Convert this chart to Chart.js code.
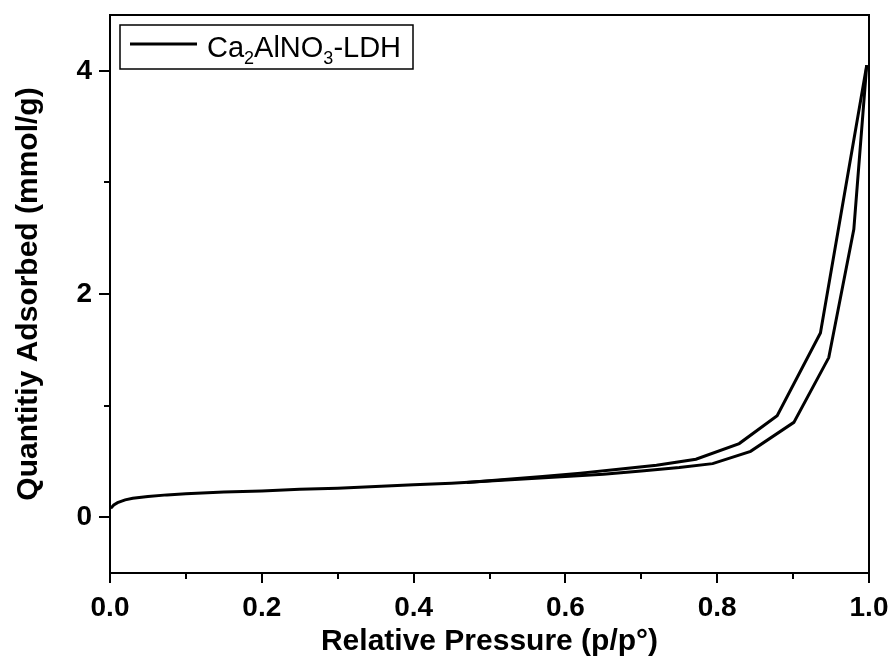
<!DOCTYPE html>
<html>
<head>
<meta charset="utf-8">
<script src="https://cdn.jsdelivr.net/npm/chart.js@4/dist/chart.umd.min.js"></script>
<style>
  html, body { margin: 0; padding: 0; background: #fff; }
  #wrap { width: 893px; height: 667px; }
</style>
</head>
<body>
<div id="wrap"><canvas id="isoChart" width="893" height="667"></canvas></div>
<script>
// adsorption branch (lower)
const adsX = [0.001, 0.005, 0.01, 0.02, 0.03, 0.05, 0.075, 0.1, 0.15, 0.2, 0.25, 0.3, 0.35, 0.4, 0.45, 0.5, 0.55, 0.6, 0.65, 0.7, 0.75, 0.794, 0.844, 0.901, 0.947, 0.980, 0.997];
const adsY = [0.08, 0.11, 0.13, 0.155, 0.17, 0.185, 0.20, 0.21, 0.225, 0.235, 0.25, 0.26, 0.275, 0.29, 0.305, 0.325, 0.345, 0.365, 0.385, 0.415, 0.445, 0.48, 0.59, 0.85, 1.43, 2.58, 4.05];
// desorption branch (upper)
const desX = [0.997, 0.936, 0.879, 0.829, 0.772, 0.72, 0.67, 0.62, 0.57, 0.52, 0.47];
const desY = [4.05, 1.65, 0.91, 0.66, 0.52, 0.465, 0.43, 0.395, 0.365, 0.338, 0.312];

const xTicks = [0, 0.2, 0.4, 0.6, 0.8, 1.0];
const xMinor = [0.1, 0.3, 0.5, 0.7, 0.9];
const yTicks = [0, 2, 4];
const yMinor = [1, 3];

const seriesName = ["Ca", "2", "AlNO", "3", "-LDH"];
const FONT = "'Liberation Sans', Arial, sans-serif";

function toPoints(xs, ys) {
    return xs.map((x, i) => ({ x: x, y: ys[i] }));
}

// frame, ticks and legend drawn on top of chart
const framePlugin = {
    id: "frame",
    afterDraw(chart) {
        const ctx = chart.ctx;
        const a = chart.chartArea;
        const xs = chart.scales.x;
        const ys = chart.scales.y;
        ctx.save();
        ctx.strokeStyle = "#000";
        ctx.lineWidth = 2;
        ctx.strokeRect(a.left, a.top, a.right - a.left, a.bottom - a.top);

        ctx.beginPath();
        xTicks.forEach(v => {
            const p = Math.round(xs.getPixelForValue(v));
            ctx.moveTo(p, a.bottom); ctx.lineTo(p, a.bottom + 10);
        });
        xMinor.forEach(v => {
            const p = Math.round(xs.getPixelForValue(v));
            ctx.moveTo(p, a.bottom); ctx.lineTo(p, a.bottom + 6);
        });
        yTicks.forEach(v => {
            const p = Math.round(ys.getPixelForValue(v));
            ctx.moveTo(a.left, p); ctx.lineTo(a.left - 11, p);
        });
        yMinor.forEach(v => {
            const p = Math.round(ys.getPixelForValue(v));
            ctx.moveTo(a.left, p); ctx.lineTo(a.left - 6, p);
        });
        ctx.stroke();

        // legend
        ctx.lineWidth = 1.5;
        ctx.strokeRect(120, 25, 293, 44);
        ctx.lineWidth = 3;
        ctx.beginPath();
        ctx.moveTo(130, 44); ctx.lineTo(197, 44);
        ctx.stroke();
        ctx.fillStyle = "#000";
        ctx.textBaseline = "alphabetic";
        let x = 207;
        seriesName.forEach((part, i) => {
            const sub = i % 2 === 1;
            ctx.font = (sub ? "18px " : "29px ") + FONT;
            ctx.fillText(part, x, sub ? 64 : 57);
            x += ctx.measureText(part).width;
        });
        ctx.restore();
    }
};

function fitX(s) {
    s.height = 94;
    s.paddingLeft = 0;
    s.paddingRight = 0;
}

function fitY(s) {
    s.width = 110;
    s.paddingTop = 0;
    s.paddingBottom = 0;
}

const ctx = document.getElementById("isoChart").getContext("2d");
const isoChart = new Chart(ctx, {
    type: "line",
    data: {
        datasets: [
            {
                label: "adsorption",
                data: toPoints(adsX, adsY),
                borderColor: "#000",
                borderWidth: 3,
                pointRadius: 0,
                tension: 0,
                fill: false,
            },
            {
                label: "desorption",
                data: toPoints(desX, desY),
                borderColor: "#000",
                borderWidth: 3,
                pointRadius: 0,
                tension: 0,
                fill: false,
            },
        ],
    },
    options: {
        responsive: false,
        animation: false,
        layout: { padding: { left: 0, right: 24, top: 15, bottom: 0 } },
        plugins: { legend: { display: false }, tooltip: { enabled: false } },
        scales: {
            x: {
                type: "linear",
                min: 0,
                max: 1,
                afterBuildTicks: s => { s.ticks = xTicks.map(v => ({ value: v })); },
                afterFit: fitX,
                grid: { display: false, drawTicks: false },
                border: { display: false },
                ticks: {
                    padding: 18,
                    color: "#000",
                    font: { family: FONT, size: 28, weight: "bold" },
                    callback: v => v.toFixed(1),
                },
                title: {
                    display: true,
                    text: "Relative Pressure (p/p°)",
                    color: "#000",
                    font: { family: FONT, size: 30, weight: "bold", lineHeight: 1.2 },
                    padding: { top: 0, bottom: 7 },
                },
            },
            y: {
                type: "linear",
                min: -0.5,
                max: 4.5,
                afterBuildTicks: s => { s.ticks = yTicks.map(v => ({ value: v })); },
                afterFit: fitY,
                grid: { display: false, drawTicks: false },
                border: { display: false },
                ticks: {
                    padding: 18,
                    color: "#000",
                    font: { family: FONT, size: 28, weight: "bold" },
                    callback: v => String(v),
                },
                title: {
                    display: true,
                    text: "Quantitiy Adsorbed (mmol/g)",
                    color: "#000",
                    font: { family: FONT, size: 30, weight: "bold", lineHeight: 1.2 },
                    padding: { top: 11, bottom: 0 },
                },
            },
        },
    },
    plugins: [framePlugin],
});
</script>
</body>
</html>
